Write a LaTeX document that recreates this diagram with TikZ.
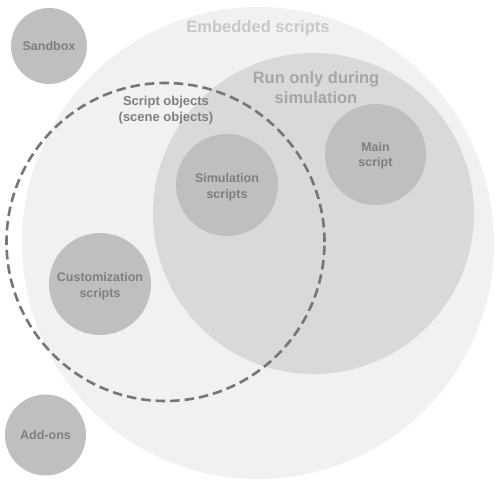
\documentclass[tikz,border=0pt]{standalone}
\usepackage{fontspec}
\setmainfont{Liberation Sans}
\definecolor{outerfill}{HTML}{F1F1F1}
\definecolor{midfill}{HTML}{D9D9D9}
\definecolor{smallfill}{HTML}{BFBFBF}
\definecolor{smalltext}{HTML}{7F7F7F}
\definecolor{dashcol}{HTML}{767676}
\definecolor{embtext}{HTML}{C8C8C8}
\definecolor{runtext}{HTML}{A6A6A6}
\begin{document}
\begin{tikzpicture}[x=1pt,y=-1pt,
  smallc/.style={circle,fill=smallfill,inner sep=0pt},
  lbl/.style={align=center,text=smalltext,inner sep=0pt,
    font=\fontsize{12.5}{15.5}\selectfont\bfseries},
  bigtitle/.style={align=center,font=\fontsize{16.5}{20}\selectfont\bfseries}]
\useasboundingbox (0,0) rectangle (500,484);
\fill[white] (0,0) rectangle (500,484);
% outer circle
\node[circle,fill=outerfill,minimum size=472pt,inner sep=0pt] (emb) at (258,243) {};
% run-only circle
\node[circle,fill=midfill,minimum size=321pt,inner sep=0pt] (run) at (313.5,213.5) {};
% small circles
\node[smallc,minimum size=76pt] (sandbox) at (49,46) {};
\node[smallc,minimum size=81pt] (addons) at (45.5,435) {};
\node[smallc,minimum size=102pt] (custom) at (100,284) {};
\node[smallc,minimum size=102pt] (sim) at (227,185) {};
\node[smallc,minimum size=101pt] (main) at (375.5,154.5) {};
\node[lbl] (sandboxt) at ([yshift=-0.5pt]sandbox.center) {Sandbox};
\node[lbl] (addonst) at ([yshift=-0.5pt]addons.center) {Add-ons};
\node[lbl] (customt) at ([yshift=-2.5pt]custom.center) {Customization\\scripts};
\node[lbl] (simt) at ([yshift=-2.5pt]sim.center) {Simulation\\scripts};
\node[lbl] (maint) at ([yshift=-1.5pt]main.center) {Main\\script};
% dashed circle
\node[circle,draw=dashcol,line width=2.6pt,dash pattern=on 9.5pt off 5pt,minimum size=318pt,inner sep=0pt] (obj) at (165.5,242) {};
% titles
\node[bigtitle,text=embtext] (embt) at (258,28) {Embedded scripts};
\node[bigtitle,text=runtext] (runt) at (316,88) {Run only during\\simulation};
\node[align=center,text=smalltext,font=\fontsize{13}{16}\selectfont\bfseries] (objt) at (166,110.5) {Script objects\\(scene objects)};
\end{tikzpicture}
\end{document}
